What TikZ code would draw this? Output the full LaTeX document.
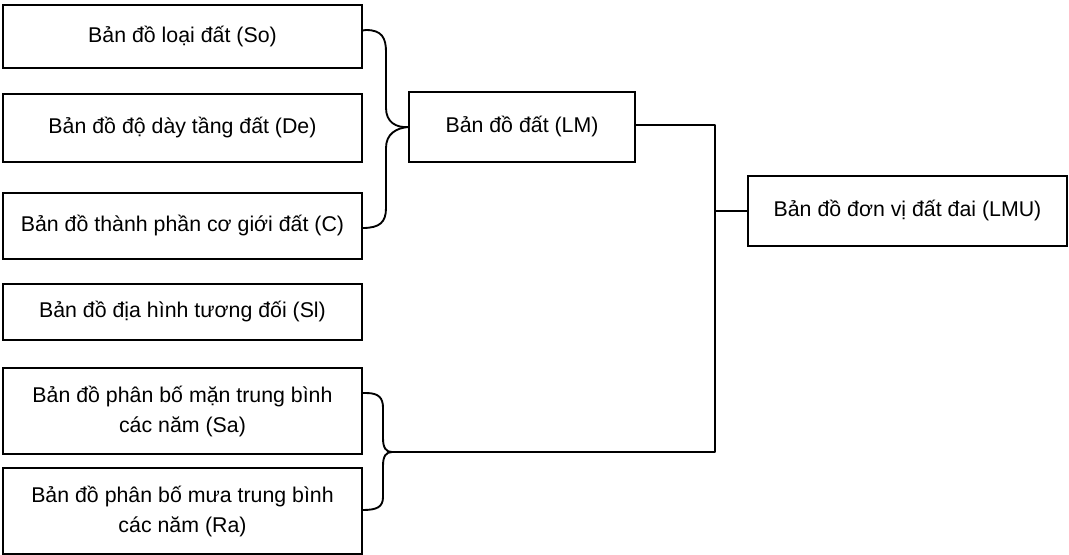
\documentclass[tikz,border=0pt]{standalone}
\usepackage{fontspec}
\setmainfont{Liberation Sans}
\begin{document}
\begin{tikzpicture}[x=0.75pt,y=-0.75pt,
  box/.style={draw,line width=0.9pt,inner sep=0pt,align=center,font=\fontsize{16}{22.5}\selectfont},
  conn/.style={line width=1.4pt,line join=round}]
\useasboundingbox (0,0) rectangle (1069,554);
\node[box,minimum width=359*0.75pt,minimum height=63*0.75pt] (b1) at (182.5,36.5) {Bản đồ loại đất (So)};
\node[box,minimum width=359*0.75pt,minimum height=68*0.75pt] (b2) at (182.5,128) {Bản đồ độ dày tầng đất (De)};
\node[box,minimum width=359*0.75pt,minimum height=66*0.75pt] (b3) at (182.5,226) {Bản đồ thành phần cơ giới đất (C)};
\node[box,minimum width=359*0.75pt,minimum height=56*0.75pt] (b4) at (182.5,312) {Bản đồ địa hình tương đối (Sl)};
\node[box,minimum width=359*0.75pt,minimum height=86*0.75pt] (b5) at (182.5,411) {Bản đồ phân bố mặn trung bình\\các năm (Sa)};
\node[box,minimum width=359*0.75pt,minimum height=86*0.75pt] (b6) at (182.5,511) {Bản đồ phân bố mưa trung bình\\các năm (Ra)};
\node[box,minimum width=226*0.75pt,minimum height=70*0.75pt] (lm) at (522,127) {Bản đồ đất (LM)};
\node[box,minimum width=319*0.75pt,minimum height=70*0.75pt] (lmu) at (907.5,211) {Bản đồ đơn vị đất đai (LMU)};
% upper bracket
\draw[conn] ([yshift=4.5pt]b1.east) -- (366,30) .. controls (382,30) and (386,38) .. (386,52)
  -- (386,108) .. controls (386,122) and (396,128) .. (lm.west);
\draw[conn] (lm.west) .. controls (396,128) and (386,134) .. (386,148)
  -- (386,208) .. controls (386,222) and (380,228) .. ([yshift=-1.5pt]b3.east);
% lower bracket
\coordinate (tip) at (392,452);
\draw[conn] ([yshift=13.5pt]b5.east) -- (366,393) .. controls (379,393) and (383,398) .. (383,408)
  -- (383,438) .. controls (383,448) and (386,452) .. (tip);
\draw[conn] (tip) .. controls (386,452) and (383,456) .. (383,466)
  -- (383,497) .. controls (383,507) and (377,510) .. ([yshift=0.75pt]b6.east);
% right connectors
\coordinate (jt) at (715,125);
\coordinate (jb) at (715,452);
\coordinate (jm) at (715,211);
\draw[conn] (lm.east |- jt) -- (jt) -- (jb) -- (tip);
\draw[conn] (jm) -- (lmu.west);
\end{tikzpicture}
\end{document}
